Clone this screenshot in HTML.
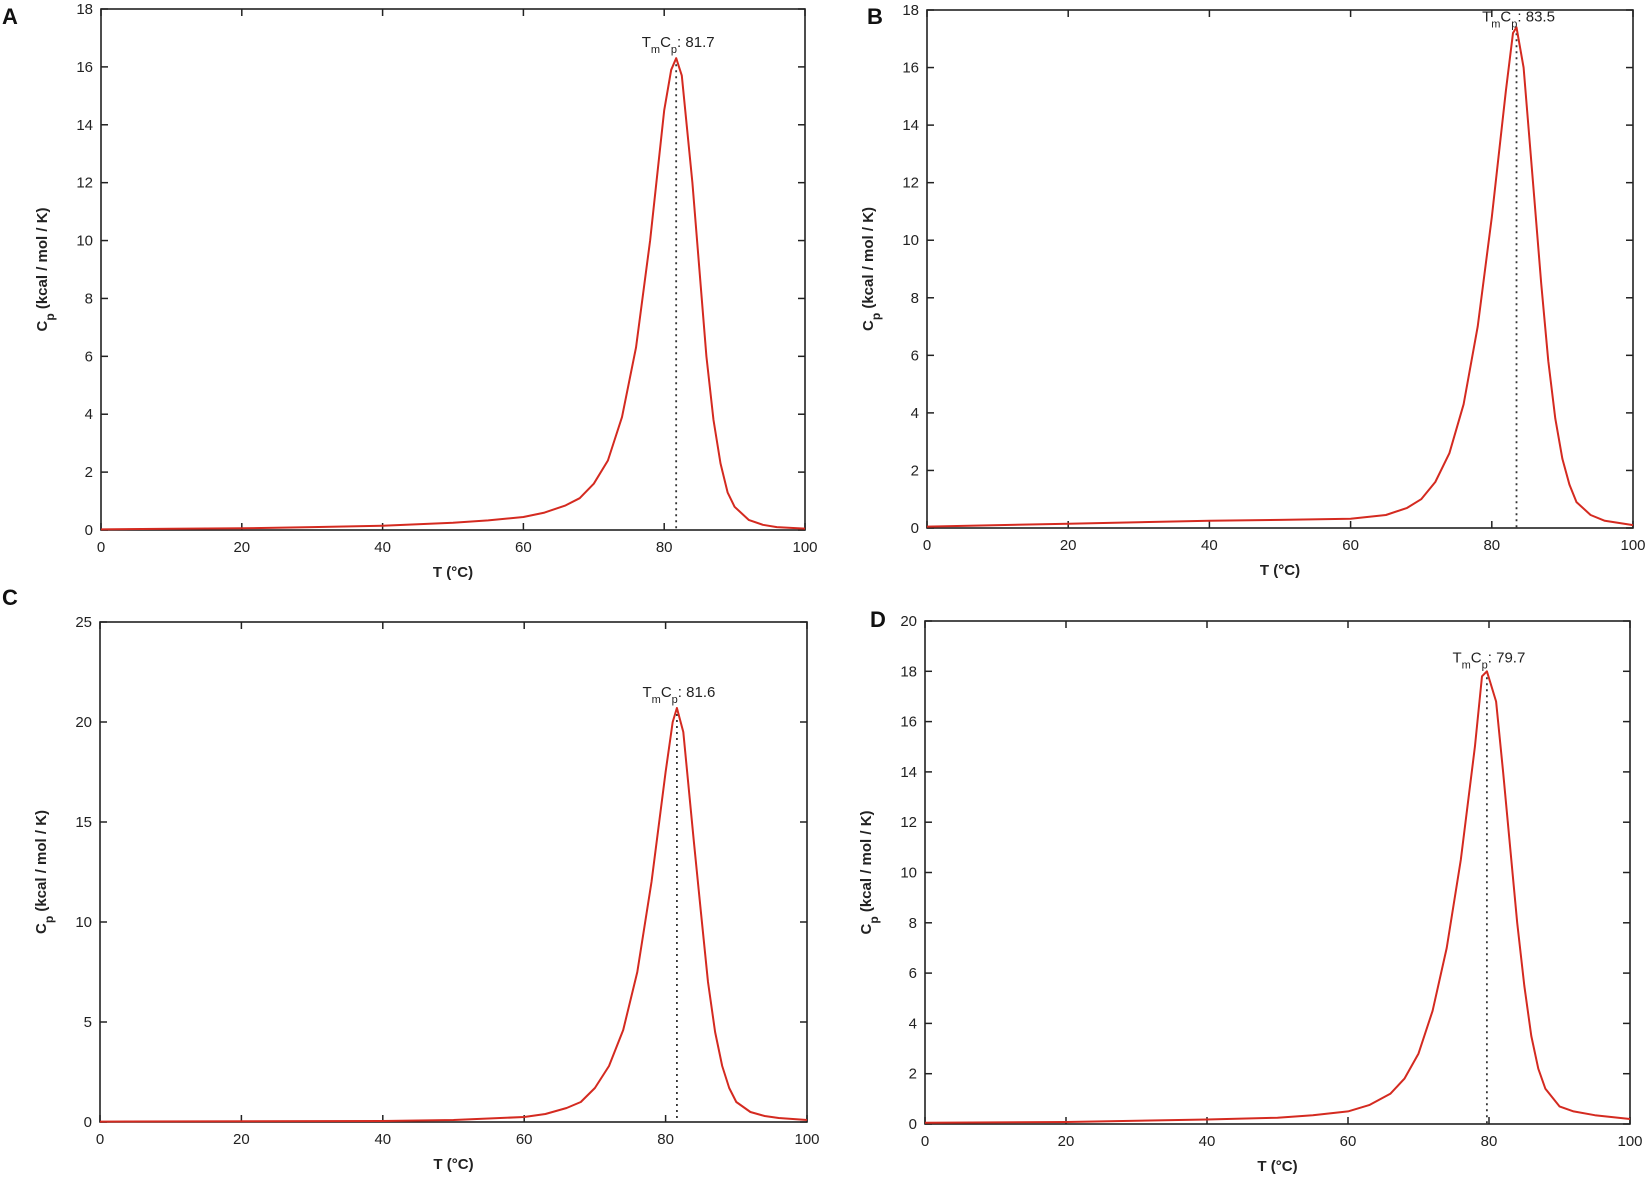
<!DOCTYPE html>
<html><head><meta charset="utf-8">
<style>
body{margin:0;background:#fff;}
svg{display:block;font-family:"Liberation Sans",sans-serif;}
.tick{font-size:15px;fill:#222;}
.ttl{font-size:15px;font-weight:bold;fill:#222;}
.panel{font-size:22px;font-weight:bold;fill:#111;}
</style></head>
<body>
<svg id="fig" width="1648" height="1181" viewBox="0 0 1648 1181"></svg>
<script>
// Panel A data
const aT = [0,10,20,30,40,50,55,60,63,66,68,70,72,74,76,78,80,81,81.7,82.5,84,85,86,87,88,89,90,92,94,96,100];
const aCp = [0.02,0.04,0.06,0.1,0.15,0.25,0.33,0.45,0.6,0.85,1.1,1.6,2.4,3.9,6.3,10,14.5,15.9,16.3,15.7,12,9,6,3.8,2.3,1.3,0.8,0.35,0.18,0.1,0.05];
// Panel B data
const bT = [0,20,40,50,60,65,68,70,72,74,76,78,80,82,83,83.5,84.5,86,87,88,89,90,91,92,94,96,100];
const bCp = [0.05,0.15,0.25,0.28,0.32,0.45,0.7,1.0,1.6,2.6,4.3,7,10.8,15.2,17.2,17.4,16,11.5,8.5,5.8,3.8,2.4,1.5,0.9,0.45,0.25,0.1];
// Panel C data
const cT = [0,40,50,60,63,66,68,70,72,74,76,78,80,81,81.6,82.5,84,85,86,87,88,89,90,92,94,96,100];
const cCp = [0.02,0.05,0.1,0.25,0.4,0.7,1,1.7,2.8,4.6,7.5,12,17.5,20,20.7,19.5,14,10.5,7,4.5,2.8,1.7,1,0.5,0.3,0.2,0.1];
// Panel D data
const dT = [0,20,40,50,55,60,63,66,68,70,72,74,76,78,79,79.7,81,82,84,85,86,87,88,90,92,95,100];
const dCp = [0.05,0.08,0.18,0.25,0.35,0.5,0.75,1.2,1.8,2.8,4.5,7,10.5,15,17.8,18,16.8,14,8,5.5,3.5,2.2,1.4,0.7,0.5,0.35,0.2];
// Tick labels
const xTicks = [0,20,40,60,80,100];
const aYTicks = [0,2,4,6,8,10,12,14,16,18];
const cYTicks = [0,5,10,15,20,25];
const dYTicks = [0,2,4,6,8,10,12,14,16,18,20];
const tmValues = [81.7,83.5,81.6,79.7];

const NS="http://www.w3.org/2000/svg";
const svg=document.getElementById('fig');
function mk(tag,attrs,parent){const e=document.createElementNS(NS,tag);for(const k in attrs)e.setAttribute(k,attrs[k]);(parent||svg).appendChild(e);return e;}

function panel(letter,lx,ly,box,T,Cp,yTicks,ymax,tm,labelDy){
  const g=mk('g',{});
  
  
  const [x0,x1,y0,y1]=box;
  const sx=v=>x0+(v/100)*(x1-x0);
  const sy=v=>y1-(v/ymax)*(y1-y0);
  const pl=mk('text',{x:lx,y:ly,class:'panel'},g);pl.textContent=letter;
  
  
  const fr=mk('rect',{x:x0,y:y0,width:x1-x0,height:y1-y0,fill:'none',stroke:'#222','stroke-width':1.6},g);
  
  
  xTicks.forEach(t=>{
    const x=sx(t);
    mk('line',{x1:x,x2:x,y1:y1,y2:y1-7,stroke:'#222','stroke-width':1.5},g);
    mk('line',{x1:x,x2:x,y1:y0,y2:y0+7,stroke:'#222','stroke-width':1.5},g);
    const tx=mk('text',{x:x,y:y1+22,class:'tick','text-anchor':'middle'},g);tx.textContent=t;
    
    
  });
  yTicks.forEach(t=>{
    const y=sy(t);
    mk('line',{x1:x0,x2:x0+7,y1:y,y2:y,stroke:'#222','stroke-width':1.5},g);
    mk('line',{x1:x1,x2:x1-7,y1:y,y2:y,stroke:'#222','stroke-width':1.5},g);
    const ty=mk('text',{x:x0-8,y:y+5,class:'tick','text-anchor':'end'},g);ty.textContent=t;
    
    
  });
  const xt=mk('text',{x:(x0+x1)/2,y:y1+47,class:'ttl','text-anchor':'middle'},g);xt.textContent='T (°C)';
  
  
  const cy=(y0+y1)/2;
  const yt=mk('text',{x:0,y:0,class:'ttl','text-anchor':'middle',transform:`translate(${x0-54},${cy}) rotate(-90)`},g);
  yt.innerHTML='C<tspan baseline-shift="sub" font-size="12">p</tspan> (kcal / mol / K)';
  
  
  // dotted Tm line
  const peak=Math.max(...Cp);
  const dl=mk('line',{x1:sx(tm),x2:sx(tm),y1:sy(peak),y2:y1,stroke:'#333','stroke-width':1.8,'stroke-dasharray':'2,4'},g);
  
  
  // curve
  const pts=T.map((t,i)=>sx(t).toFixed(1)+','+sy(Cp[i]).toFixed(1)).join(' ');
  const cv=mk('polyline',{points:pts,fill:'none',stroke:'#d42a20','stroke-width':2,'stroke-linejoin':'round'},g);
  
  
  const lb=mk('text',{x:sx(tm)+2,y:sy(peak)-labelDy,class:'tick','text-anchor':'middle'},g);
  lb.innerHTML='T<tspan baseline-shift="sub" font-size="11">m</tspan>C<tspan baseline-shift="sub" font-size="11">p</tspan>: '+tm;
  
  
}
panel('A',2,24,[101,805,9,530],aT,aCp,aYTicks,18,tmValues[0],11);
panel('B',867,24,[927,1633,10,528],bT,bCp,aYTicks,18,tmValues[1],6);
panel('C',2,605,[100,807,622,1122],cT,cCp,cYTicks,25,tmValues[2],11);
panel('D',870,627,[925,1630,621,1124],dT,dCp,dYTicks,20,tmValues[3],9);
</script>
</body></html>
